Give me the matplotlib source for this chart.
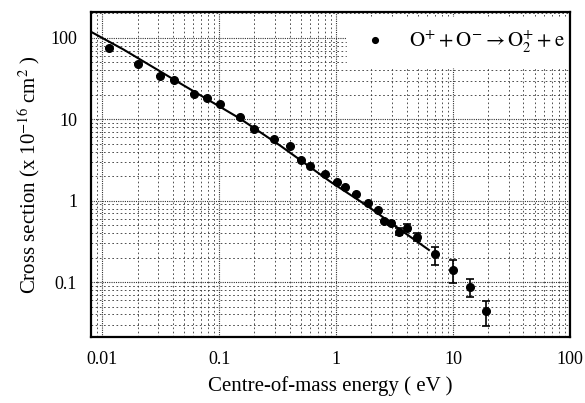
import matplotlib
matplotlib.use("Agg")
import matplotlib.pyplot as plt
import numpy as np
from matplotlib.ticker import LogLocator, NullFormatter

plt.rcParams['font.family'] = ['Liberation Serif', 'DejaVu Serif']
plt.rcParams['mathtext.fontset'] = 'stix'

# measured data points (energy in eV, cross section in 1e-16 cm^2)
energy = [0.0114, 0.0201, 0.0312, 0.0414, 0.0611, 0.0789, 0.1007, 0.149, 0.200,
          0.296, 0.400, 0.497, 0.602, 0.802, 1.007, 1.20, 1.49, 1.86, 2.28,
          2.56, 2.96, 3.47, 4.00, 4.91, 6.95, 10.0, 13.97, 19.3]
sigma = [75.9, 48.2, 34.3, 30.1, 20.5, 18.1, 15.5, 10.8, 7.6,
         5.68, 4.66, 3.16, 2.67, 2.10, 1.70, 1.49, 1.21, 0.937, 0.769,
         0.568, 0.527, 0.416, 0.466, 0.361, 0.221, 0.141, 0.0879, 0.0442]
err_lo = [0, 0, 0, 0, 0, 0, 0, 0, 0,
          0, 0, 0, 0, 0, 0, 0, 0, 0, 0,
          0, 0.03, 0.04, 0.045, 0.04, 0.059, 0.0444, 0.0217, 0.0151]
err_hi = [0, 0, 0, 0, 0, 0, 0, 0, 0,
          0, 0, 0, 0, 0, 0, 0, 0, 0, 0,
          0, 0.03, 0.04, 0.045, 0.04, 0.051, 0.046, 0.0221, 0.0144]

# theory curve
theory_e = [0.0080, 0.0151, 0.0463, 0.149, 0.333, 0.893, 1.85, 3.56, 6.21]
theory_s = [119.0, 72.4, 27.7, 10.3, 4.74, 1.71, 0.861, 0.437, 0.248]

fig = plt.figure(figsize=(5.85, 4.03), dpi=100)
ax = fig.add_axes([0.1556, 0.1645, 0.8188, 0.8055])

ax.set_xscale('log')
ax.set_yscale('log')
ax.set_xlim(0.0080, 100)
ax.set_ylim(0.0213, 208)

ax.grid(True, which='major', color='#333333', linestyle=(0, (1, 1)), linewidth=0.8)
ax.grid(True, which='minor', color='#333333', linestyle=(0, (2, 3)), linewidth=0.6)

ax.plot(theory_e, theory_s, color='black', linewidth=1.5, zorder=3)
ax.errorbar(energy, sigma, yerr=[err_lo, err_hi], fmt='none', ecolor='black',
            capsize=3, elinewidth=1.2, capthick=1.2, zorder=4)
ax.plot(energy, sigma, 'o', color='black', markersize=5.5, zorder=5,
        label=r'$\mathrm{O^{+} + O^{-} \rightarrow O_{2}^{+} + e}$')

ax.set_xticks([0.01, 0.1, 1, 10, 100])
ax.set_xticklabels(['0.01', '0.1', '1', '10', '100'])
ax.set_yticks([0.1, 1, 10, 100])
ax.set_yticklabels(['0.1', '1', '10', '100'])
ax.xaxis.set_minor_locator(LogLocator(base=10, subs=np.arange(2, 10), numticks=20))
ax.yaxis.set_minor_locator(LogLocator(base=10, subs=np.arange(2, 10), numticks=20))
ax.xaxis.set_minor_formatter(NullFormatter())
ax.yaxis.set_minor_formatter(NullFormatter())
ax.tick_params(which='both', direction='in', length=0, labelsize=13, pad=10)

for sp in ax.spines.values():
    sp.set_linewidth(1.6)

ax.set_xlabel('Centre-of-mass energy ( eV )', fontsize=15, labelpad=6)
ax.set_ylabel(r'Cross section (x 10$^{-16}$ cm$^{2}$ )', fontsize=15, labelpad=6)

leg = ax.legend(loc='upper right', bbox_to_anchor=(1.0, 0.965), frameon=True,
                fontsize=15, handletextpad=0.8, borderaxespad=0.0,
                borderpad=0.25, markerscale=0.75, handlelength=1.6)
leg.get_frame().set_edgecolor('white')
leg.get_frame().set_facecolor('white')
leg.get_frame().set_alpha(1.0)
leg.get_frame().set_boxstyle('square', pad=0.3)
leg.set_zorder(2.4)

fig.savefig('out.png', dpi=100)
